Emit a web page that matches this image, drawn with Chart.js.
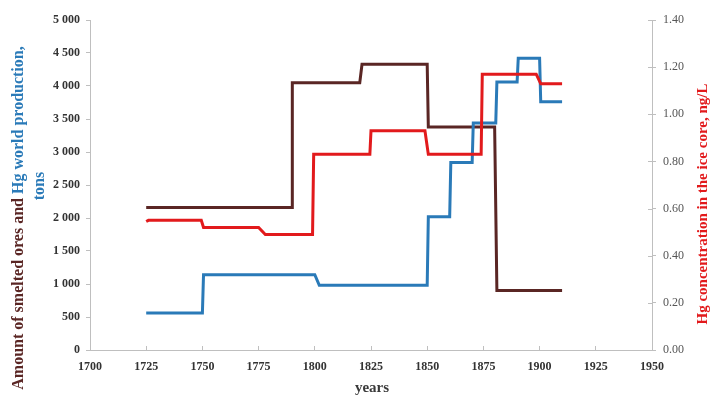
<!DOCTYPE html>
<html>
<head>
<meta charset="utf-8">
<script src="https://cdn.jsdelivr.net/npm/chart.js@4/dist/chart.umd.min.js"></script>
<style>
  html, body { margin: 0; padding: 0; background: #ffffff; }
  #wrap { width: 711px; height: 397px; position: relative; }
</style>
</head>
<body>
<div id="wrap"><canvas id="c"></canvas></div>
<script>
// Amount of smelted ores (tons), breakpoints of the step line
const oreYears = [1725, 1790, 1790, 1820, 1821, 1850, 1850.5, 1880, 1881, 1910];
const oreTons  = [2160, 2160, 4050, 4050, 4330, 4330, 3380,   3380, 900,  900];

// Hg world production (tons)
const prodYears = [1725, 1750, 1750.5, 1800, 1802, 1850, 1850.5, 1860, 1860.5, 1870, 1870.5, 1880.5, 1881, 1890, 1890.5, 1900, 1900.5, 1910];
const prodTons  = [560,  560,  1140,   1140, 980,  980,  2020,   2020, 2840,   2840, 3440,   3440,   4060, 4060, 4420,   4420, 3760,   3760];

// Hg concentration in the ice core (ng/L)
const iceYears = [1725, 1726, 1749.5, 1750.5, 1775, 1778, 1799, 1799.5, 1824.5, 1825, 1849, 1850.5, 1874, 1874.5, 1898.5, 1900.5, 1910];
const iceConc  = [0.545, 0.55, 0.55,  0.52,   0.52, 0.49, 0.49, 0.83,   0.83,   0.93, 0.93, 0.83,   0.83, 1.17,   1.17,   1.13,   1.13];

// Axis ranges and tick steps
const yearTicks = { min: 1700, max: 1950, step: 25 };
const tonTicks  = { min: 0, max: 5000, step: 500 };
const concTicks = { min: 0, max: 1.4, step: 0.2 };

const SERIF = "'Liberation Serif', 'Times New Roman', serif";
const C_ORE = '#5a2624';
const C_PROD = '#2a7ab8';
const C_ICE = '#e21a1c';
const AXIS_GRAY = '#bfbfbf';

const pts = (xs, ys) => xs.map((x, i) => ({ x: x, y: ys[i] }));

// Axis titles: rotated, multi-coloured text runs
const titlesPlugin = {
  id: 'axisTitles',
  afterDraw(chart) {
    const ctx = chart.ctx;
    const area = chart.chartArea;
    const right = chart.scales.yIce;
    ctx.save();

    // inner half of the right axis tick marks
    ctx.strokeStyle = AXIS_GRAY;
    ctx.lineWidth = 1;
    for (let v = concTicks.min; v <= concTicks.max + 1e-9; v += concTicks.step) {
      const y = Math.round(right.getPixelForValue(v)) + 0.5;
      ctx.beginPath();
      ctx.moveTo(area.right - 4, y);
      ctx.lineTo(area.right, y);
      ctx.stroke();
    }

    ctx.textBaseline = 'middle';
    ctx.font = 'bold 16px ' + SERIF;

    // left title, line 1 (two colours), reading bottom-to-top
    const runs = [
      { t: 'Amount of smelted ores and ', c: C_ORE },
      { t: 'Hg world production,', c: C_PROD }
    ];
    const total = runs.reduce((s, r) => s + ctx.measureText(r.t).width, 0);
    ctx.save();
    ctx.translate(19, 218);
    ctx.rotate(-Math.PI / 2);
    let x = -total / 2;
    ctx.textAlign = 'left';
    runs.forEach(r => {
      ctx.fillStyle = r.c;
      ctx.fillText(r.t, x, 0);
      x += ctx.measureText(r.t).width;
    });
    ctx.restore();

    // left title, line 2
    ctx.save();
    ctx.translate(40, 186);
    ctx.rotate(-Math.PI / 2);
    ctx.textAlign = 'center';
    ctx.fillStyle = C_PROD;
    ctx.fillText('tons', 0, 0);
    ctx.restore();

    // right title
    ctx.font = 'bold 15px ' + SERIF;
    ctx.save();
    ctx.translate(703, 204);
    ctx.rotate(-Math.PI / 2);
    ctx.textAlign = 'center';
    ctx.fillStyle = C_ICE;
    ctx.fillText('Hg concentration in the ice core, ng/L', 0, 0);
    ctx.restore();

    // x title
    ctx.textAlign = 'center';
    ctx.fillStyle = '#3a3a3a';
    ctx.font = 'bold 15px ' + SERIF;
    ctx.fillText('years', 372, 388);

    ctx.restore();
  }
};

const lineStyle = (color) => ({
  borderColor: color,
  backgroundColor: color,
  borderWidth: 3,
  pointRadius: 0,
  tension: 0,
  fill: false,
  borderJoinStyle: 'miter'
});

new Chart(document.getElementById('c'), {
  type: 'line',
  data: {
    datasets: [
      Object.assign({ label: 'Hg concentration in the ice core', data: pts(iceYears, iceConc), yAxisID: 'yIce', order: 1 }, lineStyle(C_ICE)),
      Object.assign({ label: 'Hg world production', data: pts(prodYears, prodTons), yAxisID: 'yTons', order: 2 }, lineStyle(C_PROD)),
      Object.assign({ label: 'Amount of smelted ores', data: pts(oreYears, oreTons), yAxisID: 'yTons', order: 3 }, lineStyle(C_ORE))
    ]
  },
  options: {
    responsive: true,
    maintainAspectRatio: false,
    animation: false,
    events: [],
    layout: { padding: { top: 20, left: 0, right: 0, bottom: 0 }, autoPadding: false },
    plugins: { legend: { display: false }, tooltip: { enabled: false } },
    scales: {
      x: {
        type: 'linear',
        min: yearTicks.min,
        max: yearTicks.max,
        afterFit(s) { s.height = 47; },
        ticks: {
          stepSize: yearTicks.step,
          color: '#333333',
          font: { family: SERIF, size: 12, weight: 'bold' },
          padding: 14,
          maxRotation: 0,
          callback: v => String(v)
        },
        grid: { drawOnChartArea: false, drawTicks: true, tickLength: -4, color: AXIS_GRAY },
        border: { color: AXIS_GRAY, width: 1 }
      },
      yTons: {
        type: 'linear',
        position: 'left',
        min: tonTicks.min,
        max: tonTicks.max,
        afterFit(s) { s.width = 90; },
        ticks: {
          stepSize: tonTicks.step,
          color: '#333333',
          font: { family: SERIF, size: 12, weight: 'bold' },
          padding: 6,
          callback: v => String(v).replace(/\B(?=(\d{3})+(?!\d))/g, ' ')
        },
        grid: { drawOnChartArea: false, drawTicks: true, tickLength: 4, color: AXIS_GRAY },
        border: { color: AXIS_GRAY, width: 1 }
      },
      yIce: {
        type: 'linear',
        position: 'right',
        min: concTicks.min,
        max: concTicks.max,
        afterFit(s) { s.width = 59; },
        ticks: {
          stepSize: concTicks.step,
          color: '#555555',
          font: { family: SERIF, size: 12 },
          padding: 7,
          callback: v => Number(v).toFixed(2)
        },
        grid: { drawOnChartArea: false, drawTicks: true, tickLength: 4, color: AXIS_GRAY },
        border: { color: AXIS_GRAY, width: 1 }
      }
    }
  },
  plugins: [titlesPlugin]
});
</script>
</body>
</html>
